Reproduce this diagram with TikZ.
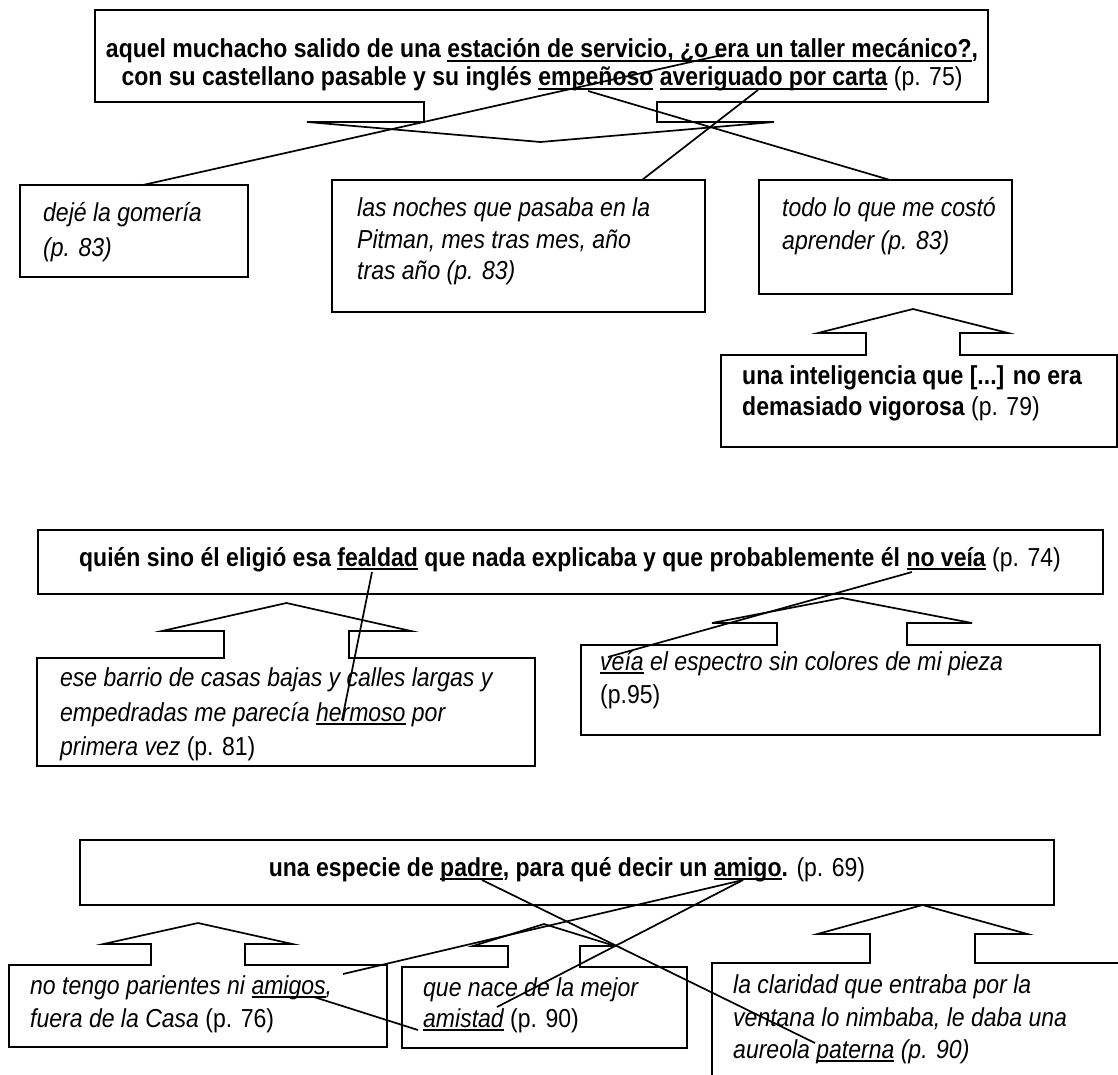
\documentclass[tikz,border=0pt]{standalone}
\usepackage{fontspec}
\setmainfont{Liberation Sans}[FakeStretch=0.885]
\newsavebox\ulbox
\newcommand\ulw[1]{\sbox\ulbox{#1}\rlap{\rule[-4pt]{\wd\ulbox}{2pt}}\usebox\ulbox}
% up-arrow callout: x1, top, x2, bottom, cx, shaft half, wing half, wing y, tip y
\newcommand\upcall[9]{%
  \draw[shp] (#1,#2) -- ({#5-#6},#2) -- ({#5-#6},#8) -- ({#5-#7},#8) -- (#5,#9)
     -- ({#5+#7},#8) -- ({#5+#6},#8) -- ({#5+#6},#2) -- (#3,#2) -- (#3,#4) -- (#1,#4) -- cycle;}
\tikzset{
  shp/.style={line width=1.7pt, line join=miter},
  conn/.style={line width=1.7pt},
  tl/.style={inner sep=0pt, anchor=base west, font=\fontsize{26}{34}\selectfont},
  tc/.style={inner sep=0pt, anchor=base, font=\fontsize{26}{34}\selectfont},
}
\begin{document}
\begin{tikzpicture}[x=1pt,y=-1pt]
\useasboundingbox (0,0) rectangle (1118,1075);
\clip (0,0) rectangle (1118,1075);
\fill[white] (0,0) rectangle (1118,1075);

% ---------- top section ----------
\draw[shp] (95,10) -- (988,10) -- (988,102) -- (657,102) -- (657,122) -- (774,122) -- (540.5,142)
   -- (307,122) -- (424,122) -- (424,102) -- (95,102) -- cycle;
\node[tc] (t1a) at (542,58) {\bfseries aquel muchacho salido de una \ulw{estación de servicio, ¿o era un taller mecánico?},};
\node[tc] (t1b) at (542,86) {\bfseries con su castellano pasable y su inglés \ulw{empeñoso} \ulw{averiguado por carta}\mdseries{} (p. 75)};

\draw[shp] (20,185) rectangle (248,277);
\node[tl] (d1) at (43,222) {\itshape dejé la gomería};
\node[tl] (d2) at (43,256) {\itshape (p. 83)};

\draw[shp] (332,180) rectangle (705,312);
\node[tl] (n1) at (357,217) {\itshape las noches que pasaba en la};
\node[tl] (n2) at (357,248) {\itshape Pitman, mes tras mes, año};
\node[tl] (n3) at (357,279) {\itshape tras año (p. 83)};

\draw[shp] (759,180) rectangle (1012,294);
\node[tl] (o1) at (782,217) {\itshape todo lo que me costó};
\node[tl] (o2) at (782,250) {\itshape aprender (p. 83)};

\upcall{721}{355}{1117}{447}{913}{47}{95}{333}{309}
\node[tl] (i1) at (742,384) {\bfseries una inteligencia que [...] no era};
\node[tl] (i2) at (742,415) {\bfseries demasiado vigorosa\mdseries{} (p. 79)};

\coordinate (a1) at (722,55);  \coordinate (b1) at (143,185);
\coordinate (a2) at (758,90);  \coordinate (b2) at (642,180);
\coordinate (a3) at (588,91);  \coordinate (b3) at (890,180);
\draw[conn] (a1) -- (b1);
\draw[conn] (a2) -- (b2);
\draw[conn] (a3) -- (b3);

% ---------- middle section ----------
\draw[shp] (38,530) rectangle (1103,594);
\node[tc] (q1) at (570,566) {\bfseries quién sino él eligió esa \ulw{fealdad} que nada explicaba y que probablemente él \ulw{no veía}\mdseries{} (p. 74)};

\upcall{37}{658}{535}{766}{286.5}{62.5}{124.5}{631}{603}
\node[tl] (r1) at (60,686) {\itshape ese barrio de casas bajas y calles largas y};
\node[tl] (r2) at (60,721) {\itshape empedradas me parecía \ulw{hermoso} por};
\node[tl] (r3) at (60,755) {\itshape primera vez\upshape{} (p. 81)};

\upcall{581}{645}{1100}{735}{842}{65}{130}{623}{598}
\node[tl] (v1) at (600,670) {\itshape\ulw{veía} el espectro sin colores de mi pieza};
\node[tl] (v2) at (600,703) {(p.95)};

\coordinate (a4) at (372,572); \coordinate (b4) at (342,720);
\coordinate (a5) at (912,572); \coordinate (b5) at (608,657);
\draw[conn] (a4) -- (b4);
\draw[conn] (a5) -- (b5);

% ---------- bottom section ----------
\draw[shp] (80,840) rectangle (1054,905);
\node[tc] (p1) at (567,876) {\bfseries una especie de \ulw{padre}, para qué decir un \ulw{amigo}.\mdseries{} (p. 69)};

\upcall{9}{965}{387}{1047}{198}{47}{94.5}{944}{923}
\node[tl] (g1) at (30,994) {\itshape no tengo parientes ni \ulw{amigos},};
\node[tl] (g2) at (30,1027) {\itshape fuera de la Casa\upshape{} (p. 76)};

\upcall{402}{967}{687}{1048}{544}{36}{71}{946}{924}
\node[tl] (m1) at (423,996) {\itshape que nace de la mejor};
\node[tl] (m2) at (423,1027) {\itshape\ulw{amistad}\upshape{} (p. 90)};

\upcall{712}{963}{1140}{1100}{922.5}{52.5}{105}{934}{905}
\node[tl] (c1) at (733,993) {\itshape la claridad que entraba por la};
\node[tl] (c2) at (733,1026) {\itshape ventana lo nimbaba, le daba una};
\node[tl] (c3) at (733,1058) {\itshape aureola \ulw{paterna} (p. 90)};

\coordinate (a6) at (482,880);  \coordinate (b6) at (815,1043);
\coordinate (a7) at (743,880);  \coordinate (b7) at (343,974);
\coordinate (b8) at (497,1007);
\coordinate (a9) at (314,997);  \coordinate (b9) at (418,1030);
\draw[conn] (a6) -- (b6);
\draw[conn] (a7) -- (b7);
\draw[conn] (a7) -- (b8);
\draw[conn] (a9) -- (b9);
\end{tikzpicture}
\end{document}
